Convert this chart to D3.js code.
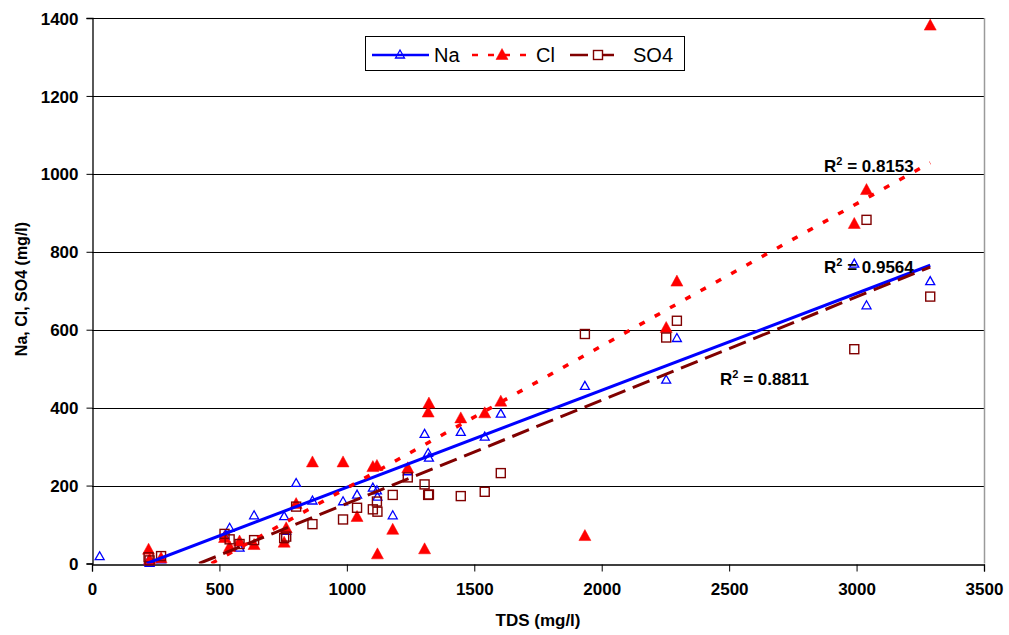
<!DOCTYPE html>
<html>
<head>
<meta charset="utf-8">
<script src="https://cdn.jsdelivr.net/npm/d3@7"></script>
<style>
  body { margin: 0; background: #fff; }
  svg { display: block; font-family: "Liberation Sans", Arial, sans-serif; }
</style>
</head>
<body>
<svg id="chart" width="1009" height="635"></svg>
<script>
// Water samples: total dissolved solids and major ions (mg/l)
const tds  = [30, 222, 226, 271, 520, 540, 579, 636, 754, 762, 801, 865, 985, 1040, 1102, 1118, 1120, 1180, 1239, 1305, 1319, 1322, 1447, 1541, 1604, 1934, 2253, 2295, 2991, 3039, 3289];
const na   = [20, 8, 3, 12, 72, 93, 42, 125, 123, 85, 208, 163, 161, 178, 196, 189, 173, 125, 238, 334, 285, 273, 339, 327, 386, 457, 473, 580, 771, 664, 726];
const cl   = [null, 38, 12, 16, 68, 45, 59, 50, 56, 93, 155, 262, 262, 122, 250, 253, 26, 89, 247, 39, 390, 413, 375, 388, 418, 73, 607, 726, 874, 961, 1383];
const so4  = [null, 16, 8, 19, 76, 62, 50, 60, 65, 69, 146, 101, 113, 143, 139, 159, 133, 176, 221, 203, 176, 177, 173, 184, 232, 589, 580, 623, 550, 882, 685];

// Linear trendlines (y = slope * TDS + intercept) and their R²
const seriesNames    = ["Na", "Cl", "SO4"];
const trendSlope     = [0.249, 0.3647, 0.2652];
const trendIntercept = [-53.5, -171, -111.4];
const rSquared       = ["0.9564", "0.8153", "0.8811"];

const xTicks = [0, 500, 1000, 1500, 2000, 2500, 3000, 3500];
const yTicks = [0, 200, 400, 600, 800, 1000, 1200, 1400];

const svg = d3.select("#chart");
const x = d3.scaleLinear().domain([0, 3500]).range([92, 984]);
const y = d3.scaleLinear().domain([0, 1400]).range([563.5, 18]);

const colors = ["#0000ff", "#ff0000", "#800000"];
const values = [na, cl, so4];

// clip region for the plot area
svg.append("defs").append("clipPath").attr("id", "plot")
  .append("rect").attr("x", x(0)).attr("y", y(1400) - 10)
  .attr("width", x(3500) - x(0)).attr("height", y(0) - y(1400) + 10);

// horizontal gridlines
svg.append("g").selectAll("line").data(yTicks.filter(d => d > 0)).join("line")
  .attr("x1", x(0)).attr("x2", x(3500))
  .attr("y1", d => Math.round(y(d)) + 0.5).attr("y2", d => Math.round(y(d)) + 0.5)
  .attr("stroke", "#000").attr("stroke-width", 1);

// right border of the plot area
svg.append("line")
  .attr("x1", x(3500) + 0.5).attr("x2", x(3500) + 0.5)
  .attr("y1", y(1400)).attr("y2", y(0))
  .attr("stroke", "#9a9a9a").attr("stroke-width", 1.5);

// axes
const yAxis = d3.axisLeft(y).tickValues(yTicks).tickSize(6).tickPadding(8).tickFormat(d3.format("d"));
const xAxis = d3.axisBottom(x).tickValues(xTicks).tickSize(7).tickPadding(11).tickFormat(d3.format("d"));

const gy = svg.append("g").attr("transform", `translate(${x(0) + 0.5},0)`).call(yAxis);
const gx = svg.append("g").attr("transform", `translate(0,${Math.round(y(0)) + 0.5})`).call(xAxis);
[gx, gy].forEach(g => {
  g.select(".domain").attr("stroke", "#000").attr("stroke-width", 1.3);
  g.selectAll(".tick line").attr("stroke", "#000").attr("stroke-width", 1);
  g.selectAll(".tick text").attr("fill", "#000")
    .style("font-size", "17px").style("font-weight", "bold")
    .style("font-family", "'Liberation Sans', Arial, sans-serif");
});
gy.selectAll(".tick text").attr("dy", "0.36em");

// axis titles
svg.append("text").attr("x", 538).attr("y", 626).attr("text-anchor", "middle")
  .style("font-size", "17px").style("font-weight", "bold").text("TDS (mg/l)");
svg.append("text").attr("transform", "translate(27,289) rotate(-90)").attr("text-anchor", "middle")
  .style("font-size", "16px").style("font-weight", "bold").text("Na, Cl, SO4 (mg/l)");

// marker shapes
function openTriangle(g, cx, cy, color) {
  const w = 9, h = 8;
  g.append("path")
    .attr("d", `M${cx},${cy - h / 2}L${cx + w / 2},${cy + h / 2}L${cx - w / 2},${cy + h / 2}Z`)
    .attr("fill", "none").attr("stroke", color).attr("stroke-width", 1.3);
}
function filledTriangle(g, cx, cy, color) {
  const w = 12, h = 11;
  g.append("path")
    .attr("d", `M${cx},${cy - h / 2}L${cx + w / 2},${cy + h / 2}L${cx - w / 2},${cy + h / 2}Z`)
    .attr("fill", color).attr("stroke", color).attr("stroke-width", 0.5);
}
function openSquare(g, cx, cy, color) {
  const s = 9;
  g.append("rect").attr("x", cx - s / 2).attr("y", cy - s / 2)
    .attr("width", s).attr("height", s)
    .attr("fill", "none").attr("stroke", color).attr("stroke-width", 1.4);
}
const markerFns = [openTriangle, filledTriangle, openSquare];

// data points
const pts = svg.append("g");
values.forEach((vals, si) => {
  tds.forEach((t, i) => {
    if (vals[i] == null) return;
    markerFns[si](pts, x(t), y(vals[i]), colors[si]);
  });
});

// trendlines, spanning each series' TDS range and clipped at zero
const dashes = [null, "6,11.5", "18,8"];
const lines = svg.append("g").attr("clip-path", "url(#plot)");
values.forEach((vals, si) => {
  const xs = tds.filter((t, i) => vals[i] != null);
  const m = trendSlope[si], b = trendIntercept[si];
  const x0 = Math.max(d3.min(xs), -b / m);
  const x1 = d3.max(xs);
  lines.append("line")
    .attr("x1", x(x0)).attr("y1", y(m * x0 + b))
    .attr("x2", x(x1)).attr("y2", y(m * x1 + b))
    .attr("stroke", colors[si]).attr("stroke-width", si === 1 ? 3.5 : 3)
    .attr("stroke-dasharray", dashes[si]);
});

// R² annotations
const rPos = [[824, 273], [824, 172], [720, 385]];
rSquared.forEach((r, si) => {
  const t = svg.append("text").attr("x", rPos[si][0]).attr("y", rPos[si][1])
    .style("font-size", "17px").style("font-weight", "bold").attr("fill", "#000");
  t.append("tspan").text("R");
  t.append("tspan").attr("dy", -7).style("font-size", "11px").text("2");
  t.append("tspan").attr("dy", 7).text(" = " + r);
});

// legend
const lg = svg.append("g");
lg.append("rect").attr("x", 365.5).attr("y", 36.5).attr("width", 319).attr("height", 34)
  .attr("fill", "#fff").attr("stroke", "#000").attr("stroke-width", 1);
const legendItems = [
  { x1: 372, x2: 429, mx: 400, tx: 434 },
  { x1: 472, x2: 530, mx: 502, tx: 536 },
  { x1: 570, x2: 618, mx: 598, tx: 633 }
];
const legendDash = [null, "6,10", "18,8"];
legendItems.forEach((it, si) => {
  lg.append("line").attr("x1", it.x1).attr("x2", it.x2).attr("y1", 55).attr("y2", 55)
    .attr("stroke", colors[si]).attr("stroke-width", 2.5)
    .attr("stroke-dasharray", legendDash[si]);
  if (si === 2) {
    lg.append("rect").attr("x", it.mx - 4.5).attr("y", 50.5).attr("width", 9).attr("height", 9)
      .attr("fill", "#fff").attr("stroke", colors[si]).attr("stroke-width", 1.4);
  } else {
    markerFns[si](lg, it.mx, 54, colors[si]);
  }
  lg.append("text").attr("x", it.tx).attr("y", 62)
    .style("font-size", "20px").attr("fill", "#000").text(seriesNames[si]);
});
</script>
</body>
</html>
